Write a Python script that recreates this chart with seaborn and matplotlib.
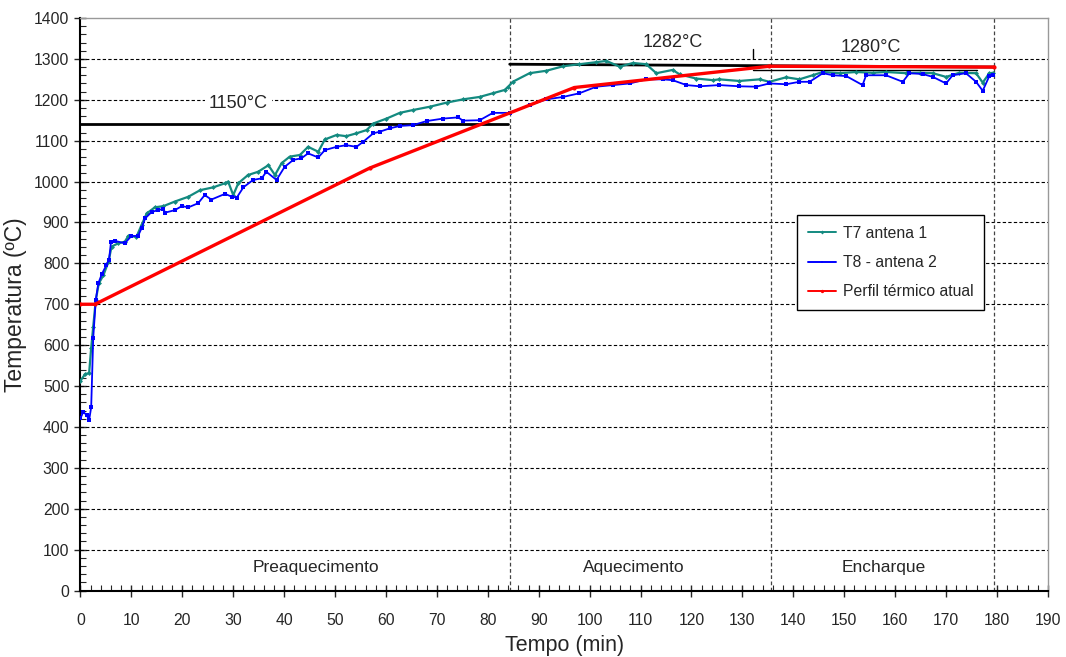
import numpy as np
import pandas as pd
import matplotlib
matplotlib.use("Agg")
import matplotlib.pyplot as plt
from matplotlib.ticker import MultipleLocator
import seaborn as sns

sns.set_style("white")
plt.rcParams['font.family'] = ['Liberation Sans', 'DejaVu Sans']

# T7 antena 1 (min, degC)
t7_time = [0, 0.9, 1.7, 2.1, 2.5, 3.0, 3.6, 4.5, 5.5, 6.1, 7.4, 8.7, 9.4, 11.0, 12.0,
           13.0, 14.6, 16.3, 18.5, 21.2, 23.5, 26.1, 28.4, 29.0, 30.0, 31.0, 32.9,
           34.9, 36.9, 38.2, 39.5, 41.1, 43.1, 44.7, 46.7, 48.0, 50.3, 52.2, 54.2,
           56.2, 57.5, 60.1, 62.7, 65.3, 68.6, 71.9, 75.1, 78.4, 81.0, 83.3, 84.0,
           84.9, 88.2, 91.5, 94.8, 98.0, 101.3, 103.3, 105.9, 108.5, 111.1, 113.1,
           116.3, 117.7, 120.9, 124.2, 125.5, 129.4, 133.4, 135.3, 138.6, 141.2,
           143.8, 145.8, 149.1, 152.3, 155.6, 158.2, 162.2, 164.8, 167.4, 170.0,
           172.6, 175.9, 177.2, 178.5, 179.2]
t7_temp = [513, 529, 532, 593, 645, 710, 751, 771, 804, 841, 849, 853, 867, 865, 894,
           922, 937, 940, 951, 963, 979, 986, 996, 1000, 967, 996, 1016,
           1024, 1040, 1016, 1045, 1061, 1065, 1085, 1073, 1103, 1114, 1111, 1118,
           1126, 1142, 1154, 1168, 1175, 1183, 1193, 1201, 1207, 1216, 1224, 1232,
           1244, 1265, 1271, 1282, 1287, 1292, 1295, 1281, 1290, 1287, 1265,
           1273, 1262, 1252, 1248, 1250, 1246, 1250, 1244, 1255, 1250,
           1260, 1268, 1265, 1268, 1266, 1268, 1265, 1266, 1265, 1256,
           1266, 1265, 1242, 1265, 1266]

# T8 - antena 2
t8_time = [0, 0.55, 1.2, 1.7, 2.1, 2.5, 3.0, 3.5, 4.2, 5.1, 5.6, 6.0, 6.8, 8.7, 10.0,
           11.3, 12.0, 12.7, 14.0, 15.3, 16.3, 16.6, 18.5, 19.9, 21.2, 23.1, 24.4,
           25.7, 28.4, 29.7, 30.7, 32.0, 33.9, 35.6, 36.5, 38.5, 40.1, 41.8, 43.4,
           44.7, 46.7, 48.0, 50.3, 52.2, 54.2, 55.5, 57.5, 58.8, 60.7, 62.7, 65.3,
           68.0, 71.2, 74.2, 75.1, 78.4, 81.0, 84.3, 88.2, 91.5, 94.8, 98.0, 101.3,
           104.6, 107.9, 111.1, 114.4, 116.3, 119.0, 121.6, 125.5, 129.4, 132.7,
           135.3, 138.6, 141.2, 143.2, 145.8, 147.8, 150.4, 153.6, 154.3, 158.2,
           161.5, 162.8, 165.4, 167.4, 170.0, 171.3, 173.9, 175.9, 177.2, 178.5, 179.2]
t8_temp = [421, 437, 429, 417, 448, 617, 710, 751, 774, 796, 808, 853, 855, 849, 867,
           867, 886, 910, 926, 930, 934, 924, 930, 940, 937, 947, 967,
           956, 970, 963, 961, 986, 1004, 1008, 1024, 1004, 1036, 1053, 1057,
           1069, 1059, 1077, 1085, 1089, 1085, 1097, 1118, 1122, 1130, 1136, 1138,
           1148, 1154, 1157, 1149, 1150, 1168, 1168, 1187, 1201, 1207, 1216, 1232,
           1236, 1240, 1250, 1250, 1248, 1236, 1233, 1236, 1233, 1232,
           1240, 1238, 1244, 1244, 1265, 1260, 1258, 1236, 1260, 1260,
           1244, 1265, 1263, 1256, 1240, 1260, 1265, 1244, 1222, 1258, 1260]

# Perfil termico atual
perfil_time = [0, 2.85, 56.8, 97.0, 135.3, 179.5]
perfil_temp = [700, 700, 1033, 1230, 1282, 1280]

# set-point lines and phase limits
sp_1150_x = [0, 83.9]
sp_1150_y = [1140, 1140]
sp_1282_x = [84.3, 179.5]
sp_1282_y = [1287, 1280]
sp_1280_x = [132, 176]
sp_1280_y = [1272, 1272]
phase_limits = [84.3, 135.7, 179.5]
phase_names = ["Preaquecimento", "Aquecimento", "Encharque"]
phase_centers = [46.3, 108.6, 157.7]

t7 = pd.DataFrame({"tempo": t7_time, "temp": t7_temp})
t8 = pd.DataFrame({"tempo": t8_time, "temp": t8_temp})
perfil = pd.DataFrame({"tempo": perfil_time, "temp": perfil_temp})

fig = plt.figure(figsize=(10.66, 6.57), dpi=100)
ax = fig.add_axes([0.0755, 0.1012, 0.9075, 0.8714])

ax.set_xlim(0, 190)
ax.set_ylim(0, 1400)

for yv in range(100, 1400, 100):
    ax.axhline(yv, color="black", lw=0.8, ls=(0, (3, 2)), zorder=1)
for xv in phase_limits:
    ax.axvline(xv, color="#444444", lw=0.9, ls=(0, (3, 2)), zorder=1)

ax.plot(sp_1150_x, sp_1150_y, color="black", lw=2, zorder=2)
ax.plot(sp_1282_x, sp_1282_y, color="black", lw=2, zorder=2)
ax.plot(sp_1280_x, sp_1280_y, color="black", lw=1, zorder=2)
ax.plot([132, 132], [1302, 1323], color="black", lw=1, zorder=2)

sns.lineplot(data=t7, x="tempo", y="temp", ax=ax, color="#138a80", lw=1.6,
             marker="D", markersize=2.5, markeredgewidth=0, label="T7 antena 1", zorder=3)
sns.lineplot(data=t8, x="tempo", y="temp", ax=ax, color="#0000ff", lw=1.3,
             marker="s", markersize=2.5, markeredgewidth=0, label="T8 - antena 2", zorder=4)
sns.lineplot(data=perfil, x="tempo", y="temp", ax=ax, color="#ff0000", lw=2.4,
             marker="o", markersize=3, markeredgewidth=0, label="Perfil térmico atual", zorder=5)

ax.text(31, 1192, "1150°C", fontsize=13, ha="center", va="center", zorder=2,
        bbox=dict(facecolor="white", edgecolor="none", pad=3))
ax.text(116.3, 1339, "1282°C", fontsize=13, ha="center", va="center")
ax.text(155.3, 1329, "1280°C", fontsize=13, ha="center", va="center")
for name, xc in zip(phase_names, phase_centers):
    ax.text(xc, 57, name, fontsize=12.5, ha="center", va="center")

ax.xaxis.set_major_locator(MultipleLocator(10))
ax.xaxis.set_minor_locator(MultipleLocator(2))
ax.yaxis.set_major_locator(MultipleLocator(100))
ax.yaxis.set_minor_locator(MultipleLocator(20))
ax.tick_params(which="major", direction="inout", length=8, width=1, labelsize=11.3,
               bottom=True, left=True, pad=4)
ax.tick_params(which="minor", direction="in", length=4, width=0.8, bottom=True, left=True)
ax.tick_params(axis="x", pad=12)

for side in ["left", "bottom"]:
    ax.spines[side].set_color("black")
    ax.spines[side].set_linewidth(1.5)
for side in ["top", "right"]:
    ax.spines[side].set_color("#999999")
    ax.spines[side].set_linewidth(1)

ax.set_xlabel("Tempo (min)", fontsize=15.5, labelpad=5)
ax.set_ylabel("Temperatura (ºC)", fontsize=16.5, labelpad=5)

leg = ax.legend(loc="upper left", bbox_to_anchor=(797 / 1066, 1 - 215 / 657),
                bbox_transform=fig.transFigure, borderaxespad=0, fontsize=11.3,
                frameon=True, fancybox=False, edgecolor="black", framealpha=1,
                handlelength=1.8, handletextpad=0.4, labelspacing=0.9,
                borderpad=0.7, markerscale=0.8)
leg.get_frame().set_linewidth(1)
for h in leg.get_lines():
    h.set_linewidth(1.4)

fig.savefig("out.png", dpi=100)
